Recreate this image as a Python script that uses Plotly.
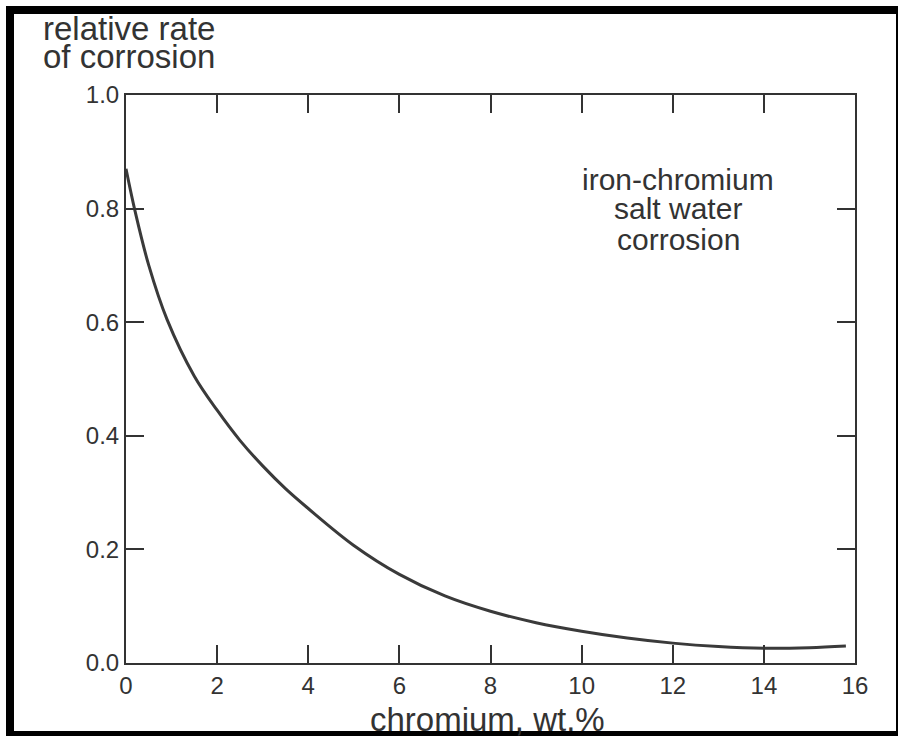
import plotly.graph_objects as go

# Data
chromium_wt = [0, 0.2, 0.5, 0.9, 1.5, 2.0, 2.5, 3.0, 3.5, 4.0, 5.0, 6.0, 7.0,
               8.0, 9.0, 10.0, 11.0, 12.0, 13.0, 14.0, 15.0, 15.8]
relative_rate = [0.87, 0.795, 0.70, 0.605, 0.505, 0.445, 0.392, 0.347, 0.307, 0.272,
                 0.207, 0.156, 0.118, 0.091, 0.071, 0.056, 0.044, 0.035, 0.029,
                 0.026, 0.027, 0.030]
x_ticks = [0, 2, 4, 6, 8, 10, 12, 14, 16]
y_ticks = [0.0, 0.2, 0.4, 0.6, 0.8, 1.0]
label_lines = ["iron-chromium", "salt water", "corrosion"]
y_title_lines = ["relative rate", "of corrosion"]
x_title = "chromium, wt.%"

W, H = 898, 736
L, R, T, B = 126, 43, 95, 73
PW, PH = W - L - R, H - T - B


def px(p):
    return (p - L) / PW


def py(q):
    return (H - B - q) / PH


INK = "#333333"
FONT = "Liberation Sans, Arial, Helvetica, sans-serif"

fig = go.Figure()
fig.add_trace(go.Scatter(
    x=chromium_wt, y=relative_rate, mode="lines",
    line=dict(color="#3a3a3a", width=3, shape="spline", smoothing=1.0),
    hoverinfo="skip", showlegend=False,
))

axis_common = dict(
    showgrid=False, zeroline=False, showline=True, linecolor=INK, linewidth=2,
    mirror="ticks", ticks="inside", ticklen=18, tickwidth=2, tickcolor=INK,
    tickfont=dict(family=FONT, size=24, color=INK),
)

fig.update_xaxes(range=[0, 16], tickvals=x_ticks, ticktext=[str(v) for v in x_ticks],
                 **axis_common)
fig.update_yaxes(range=[0, 1], tickvals=y_ticks, ticktext=[f"{v:.1f}" for v in y_ticks],
                 **axis_common)

annotations = []
for i, t in enumerate(label_lines):
    annotations.append(dict(
        text=t, xref="paper", yref="paper", x=px(678), y=py(179 + 30 * i),
        xanchor="center", yanchor="middle", showarrow=False,
        font=dict(family=FONT, size=30, color=INK)))
for i, t in enumerate(y_title_lines):
    annotations.append(dict(
        text=t, xref="paper", yref="paper", x=px(41), y=py(28 + 29 * i),
        xanchor="left", yanchor="middle", showarrow=False,
        font=dict(family=FONT, size=33, color=INK)))
annotations.append(dict(
    text=x_title, xref="paper", yref="paper", x=px(487), y=py(719),
    xanchor="center", yanchor="middle", showarrow=False,
    font=dict(family=FONT, size=33, color=INK)))

# black scan frame
shapes = []
for (x0, y0, x1, y1) in [(6, 6, 898, 14), (6, 6, 14, 736), (6, 731, 898, 736),
                         (896, 6, 898, 736)]:
    shapes.append(dict(type="rect", xref="paper", yref="paper",
                       x0=px(x0), x1=px(x1), y0=py(y0), y1=py(y1),
                       fillcolor="black", line=dict(width=0), layer="above"))

fig.update_layout(
    width=W, height=H, margin=dict(l=L, r=R, t=T, b=B, pad=0),
    paper_bgcolor="white", plot_bgcolor="white",
    annotations=annotations, shapes=shapes, showlegend=False,
)

fig.write_html(
    "out.html",
    config={"displayModeBar": False},
    post_script="document.body.style.margin='0';document.body.style.overflow='hidden';",
)
